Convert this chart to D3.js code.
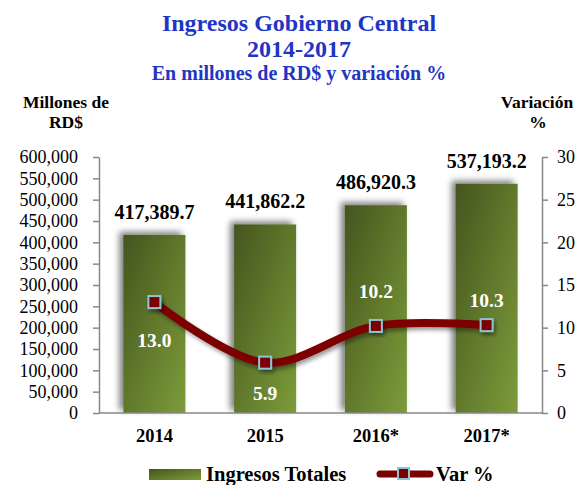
<!DOCTYPE html>
<html>
<head>
<meta charset="utf-8">
<script src="https://cdn.jsdelivr.net/npm/d3@7"></script>
<style>
  body { margin: 0; background: #fff; }
  text { font-family: "Times New Roman", "Liberation Serif", serif; }
</style>
</head>
<body>
<div id="chart"></div>
<script>
// chart data
let years = ["2014", "2015", "2016*", "2017*"];
let ingresos = [417389.7, 441862.2, 486920.3, 537193.2];
let variacion = [13.0, 5.9, 10.2, 10.3];
let leftTicks = [0, 50000, 100000, 150000, 200000, 250000, 300000, 350000, 400000, 450000, 500000, 550000, 600000];
let rightTicks = [0, 5, 10, 15, 20, 25, 30];
// where each % label sits relative to its point (px)
let varLabelDy = [45, 37, -28, -18];

let svgWidth = 581;
let svgHeight = 485;

let plot = { left: 99, right: 542, top: 157, bottom: 413 };

var svg = d3.select("#chart")
    .append("svg")
    .attr("width", svgWidth)
    .attr("height", svgHeight);

var defs = svg.append("defs");

var grad = defs.append("linearGradient")
    .attr("id", "barGrad")
    .attr("x1", 0).attr("y1", 0)
    .attr("x2", 1).attr("y2", 1);
grad.append("stop").attr("offset", "0%").attr("stop-color", "#44551e");
grad.append("stop").attr("offset", "100%").attr("stop-color", "#7d9c3a");

var shadow = defs.append("filter")
    .attr("id", "barShadow")
    .attr("x", "-30%").attr("y", "-20%")
    .attr("width", "160%").attr("height", "140%");
shadow.append("feDropShadow")
    .attr("dx", -4).attr("dy", -3)
    .attr("stdDeviation", 3)
    .attr("flood-color", "#000")
    .attr("flood-opacity", 0.5);

var ptShadow = defs.append("filter")
    .attr("id", "ptShadow")
    .attr("x", "-50%").attr("y", "-50%")
    .attr("width", "200%").attr("height", "200%");
ptShadow.append("feDropShadow")
    .attr("dx", 2).attr("dy", 3)
    .attr("stdDeviation", 2)
    .attr("flood-color", "#000")
    .attr("flood-opacity", 0.4);

// scales
var x = d3.scaleBand()
    .domain(years)
    .range([plot.left, plot.right])
    .paddingInner(0.44)
    .paddingOuter(0.22);

var yLeft = d3.scaleLinear()
    .domain([0, 600000])
    .range([plot.bottom, plot.top]);

var yRight = d3.scaleLinear()
    .domain([0, 30])
    .range([plot.bottom, plot.top]);

// titles
var titleColor = "#1f36c4";
svg.append("text")
    .attr("x", 299).attr("y", 31)
    .attr("text-anchor", "middle")
    .attr("font-size", "24px").attr("font-weight", "bold")
    .attr("fill", titleColor)
    .text("Ingresos Gobierno Central");
svg.append("text")
    .attr("x", 299).attr("y", 57)
    .attr("text-anchor", "middle")
    .attr("font-size", "24px").attr("font-weight", "bold")
    .attr("fill", titleColor)
    .text("2014-2017");
svg.append("text")
    .attr("x", 299).attr("y", 80)
    .attr("text-anchor", "middle")
    .attr("font-size", "20px").attr("font-weight", "bold")
    .attr("fill", titleColor)
    .text("En millones de RD$ y variación %");

// axis titles
svg.append("text")
    .attr("x", 66).attr("y", 108)
    .attr("text-anchor", "middle")
    .attr("font-size", "17.5px").attr("font-weight", "bold")
    .text("Millones de");
svg.append("text")
    .attr("x", 66).attr("y", 128)
    .attr("text-anchor", "middle")
    .attr("font-size", "17.5px").attr("font-weight", "bold")
    .text("RD$");
svg.append("text")
    .attr("x", 537).attr("y", 108)
    .attr("text-anchor", "middle")
    .attr("font-size", "17.5px").attr("font-weight", "bold")
    .text("Variación");
svg.append("text")
    .attr("x", 538).attr("y", 128)
    .attr("text-anchor", "middle")
    .attr("font-size", "17.5px").attr("font-weight", "bold")
    .text("%");

// bars
svg.append("g").selectAll("rect")
    .data(ingresos)
    .enter()
    .append("rect")
    .attr("x", (d, i) => x(years[i]))
    .attr("y", d => yLeft(d))
    .attr("width", x.bandwidth())
    .attr("height", d => yLeft(0) - yLeft(d))
    .attr("fill", "url(#barGrad)")
    .attr("filter", "url(#barShadow)");

// bar value labels
svg.append("g").selectAll("text")
    .data(ingresos)
    .enter()
    .append("text")
    .attr("x", (d, i) => x(years[i]) + x.bandwidth() / 2)
    .attr("y", d => yLeft(d) - 16)
    .attr("text-anchor", "middle")
    .attr("font-size", "20px").attr("font-weight", "bold")
    .text(d => d3.format(",.1f")(d));

// axes
var axisColor = "#888";
var leftAxis = svg.append("g")
    .attr("transform", `translate(${plot.left},0)`)
    .call(d3.axisLeft(yLeft).tickValues(leftTicks).tickFormat(d3.format(","))
        .tickSize(6).tickSizeOuter(0).tickPadding(15));

var rightAxis = svg.append("g")
    .attr("transform", `translate(${plot.right},0)`)
    .call(d3.axisRight(yRight).tickValues(rightTicks)
        .tickSize(6).tickSizeOuter(0).tickPadding(9));

var bottomAxis = svg.append("g")
    .attr("transform", `translate(0,${plot.bottom})`)
    .call(d3.axisBottom(x).tickSize(0).tickPadding(16));

[leftAxis, rightAxis, bottomAxis].forEach(function(g) {
    g.select(".domain").attr("stroke", axisColor).attr("stroke-width", 1.5);
    g.selectAll(".tick line").attr("stroke", axisColor).attr("stroke-width", 1.5);
    g.selectAll("text")
        .attr("font-family", "'Times New Roman', 'Liberation Serif', serif")
        .attr("fill", "#000")
        .attr("font-size", "18px");
});
bottomAxis.selectAll("text").attr("font-size", "18.5px").attr("font-weight", "bold");
bottomAxis.select(".domain").attr("d", `M${plot.left},0H${plot.right}`);

// variation line
var lineGen = d3.line()
    .x((d, i) => x(years[i]) + x.bandwidth() / 2)
    .y(d => yRight(d))
    .curve(d3.curveCatmullRom.alpha(0.5));

svg.append("path")
    .datum(variacion)
    .attr("d", lineGen)
    .attr("fill", "none")
    .attr("stroke", "#7b0000")
    .attr("stroke-width", 8)
    .attr("stroke-linecap", "round")
    .attr("filter", "url(#ptShadow)");

svg.append("g").selectAll("rect")
    .data(variacion)
    .enter()
    .append("rect")
    .attr("x", (d, i) => x(years[i]) + x.bandwidth() / 2 - 6)
    .attr("y", d => yRight(d) - 6)
    .attr("width", 12)
    .attr("height", 12)
    .attr("fill", "#7b0000")
    .attr("stroke", "#8ec3d6")
    .attr("stroke-width", 2)
    .attr("filter", "url(#ptShadow)");

svg.append("g").selectAll("text")
    .data(variacion)
    .enter()
    .append("text")
    .attr("x", (d, i) => x(years[i]) + x.bandwidth() / 2)
    .attr("y", (d, i) => yRight(d) + varLabelDy[i])
    .attr("text-anchor", "middle")
    .attr("font-size", "19.5px").attr("font-weight", "bold")
    .attr("fill", "#fff")
    .text(d => d3.format(".1f")(d));

// legend
var legend = svg.append("g");
legend.append("rect")
    .attr("x", 149).attr("y", 469)
    .attr("width", 52).attr("height", 11)
    .attr("fill", "url(#barGrad)");
legend.append("text")
    .attr("x", 206).attr("y", 481)
    .attr("font-size", "20.5px").attr("font-weight", "bold")
    .text("Ingresos Totales");
legend.append("line")
    .attr("x1", 380).attr("x2", 430)
    .attr("y1", 474).attr("y2", 474)
    .attr("stroke", "#7b0000")
    .attr("stroke-width", 7)
    .attr("stroke-linecap", "round");
legend.append("rect")
    .attr("x", 398).attr("y", 468)
    .attr("width", 11).attr("height", 11)
    .attr("fill", "#7b0000")
    .attr("stroke", "#8ec3d6")
    .attr("stroke-width", 2);
legend.append("text")
    .attr("x", 436).attr("y", 481)
    .attr("font-size", "20.5px").attr("font-weight", "bold")
    .text("Var %");
</script>
</body>
</html>
